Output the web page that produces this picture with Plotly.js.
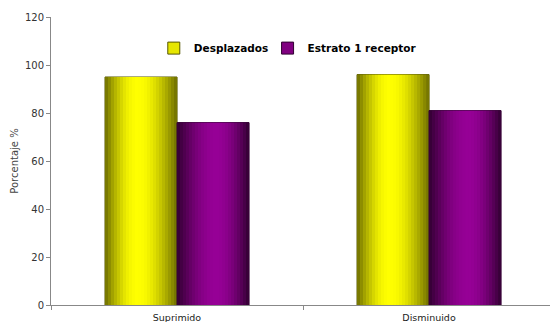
<!DOCTYPE html>
<html><head><meta charset="utf-8">
<script src="https://cdn.plot.ly/plotly-3.0.1.min.js"></script>
<style>html,body{margin:0;padding:0;background:#fff;}#chart{width:550px;height:322px;}</style>
</head><body><div id="chart"></div>
<script>
var categories = ['Suprimido', 'Disminuido'];
var desplazados = [95, 96];
var estrato = [76, 81];
var seriesNames = ['Desplazados', 'Estrato 1 receptor'];
var yTicks = [0, 20, 40, 60, 80, 100, 120];

var BW = 0.2857, N = 24;
function mix(a, b, t) { return a.map(function (v, i) { return Math.round(v + (b[i] - v) * t); }); }
function grad(dark, bright, peak, k) {
  var p = (k + 0.5) / N;
  var t = p < peak ? p / peak : (1 - p) / (1 - peak);
  t = Math.sin(t * Math.PI / 2);
  var c = mix(dark, bright, t);
  return 'rgb(' + c.join(',') + ')';
}
var traces = [];
function addSeries(name, vals, offset, solid, lineCol, dark, bright, peak, legendId) {
  traces.push({type: 'bar', x: categories, y: vals, name: name, width: BW, offset: offset,
    marker: {color: solid, line: {color: lineCol, width: 1}}, showlegend: true, legend: legendId, hoverinfo: 'skip'});
  for (var k = 0; k < N; k++) {
    traces.push({type: 'bar', x: categories, y: vals, width: BW / N * 1.05, offset: offset + k * BW / N,
      marker: {color: grad(dark, bright, peak, k), line: {width: 0}}, showlegend: false, hoverinfo: 'skip'});
  }
}
addSeries(seriesNames[0], desplazados, -BW, '#e6e600', '#555500', [110, 110, 0], [255, 255, 0], 0.45, 'legend');
addSeries(seriesNames[1], estrato, 0, '#800080', '#300030', [50, 0, 50], [150, 0, 150], 0.55, 'legend2');

var legFont = {size: 10.5, color: '#000', family: 'DejaVu Sans, Verdana, sans-serif', weight: 'bold'};
var layout = {
  width: 550, height: 322,
  margin: {l: 51, r: 0, t: 17, b: 17},
  paper_bgcolor: '#fff', plot_bgcolor: '#fff',
  barmode: 'overlay',
  font: {family: 'DejaVu Sans, Verdana, sans-serif', size: 10, color: '#333'},
  xaxis: {type: 'category', range: [-0.5, 1.48], showline: true, linecolor: '#888', linewidth: 1,
    ticks: 'outside', tickson: 'boundaries', ticklen: 4, tickcolor: '#888', showgrid: false,
    ticklabelstandoff: 4, tickfont: {size: 9.5, color: '#222'}},
  yaxis: {range: [0, 120], tickvals: yTicks, showline: true, linecolor: '#888', linewidth: 1,
    ticks: 'outside', ticklen: 4, tickcolor: '#888', showgrid: false, zeroline: false,
    tickfont: {size: 10, color: '#333'},
    title: {text: 'Porcentaje %', font: {size: 10, color: '#444'}, standoff: 4}},
  legend: {orientation: 'h', x: 0.206, y: 0.892, xanchor: 'left', yanchor: 'middle',
    font: legFont, itemwidth: 30, bgcolor: 'rgba(0,0,0,0)'},
  legend2: {orientation: 'h', x: 0.434, y: 0.892, xanchor: 'left', yanchor: 'middle',
    font: legFont, itemwidth: 30, bgcolor: 'rgba(0,0,0,0)'}
};
Plotly.newPlot('chart', traces, layout, {displayModeBar: false, staticPlot: true});
</script></body></html>
